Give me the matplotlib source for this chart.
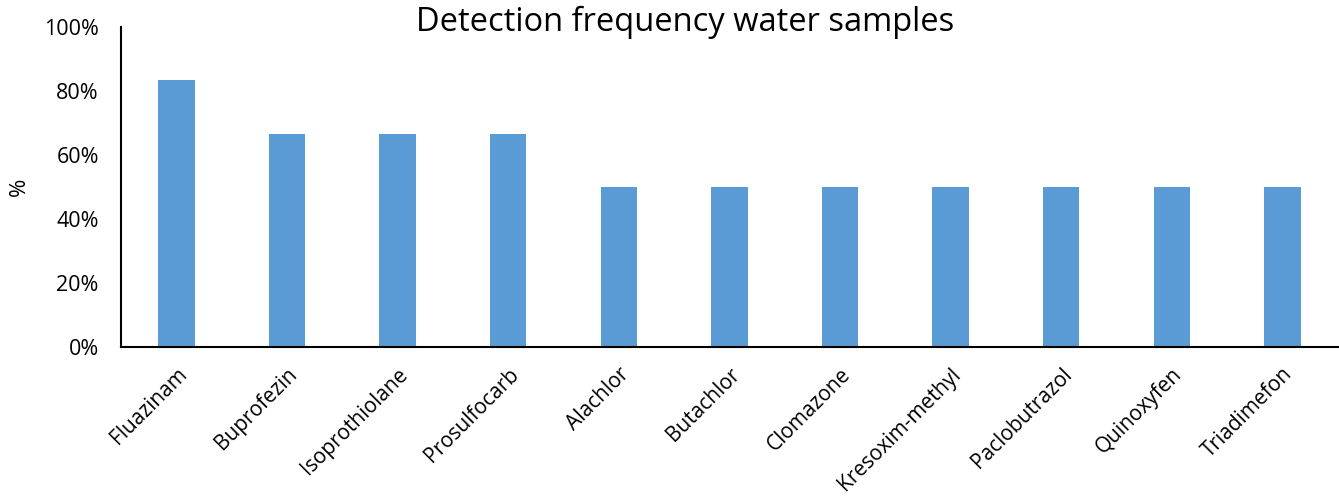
import matplotlib
matplotlib.use('agg')
import matplotlib.pyplot as plt
from matplotlib.ticker import PercentFormatter

# detection frequency per compound (%)
compounds = ['Fluazinam', 'Buprofezin', 'Isoprothiolane', 'Prosulfocarb', 'Alachlor',
             'Butachlor', 'Clomazone', 'Kresoxim-methyl', 'Paclobutrazol', 'Quinoxyfen',
             'Triadimefon']
freq = [83.3, 66.7, 66.7, 66.7, 50, 50, 50, 50, 50, 50, 50]
yticks = [0, 20, 40, 60, 80, 100]

plt.rcParams['font.family'] = ['Open Sans', 'DejaVu Sans']

fig = plt.figure(figsize=(13.39, 4.99), dpi=100)
ax = fig.add_axes([0.0904, 0.3046, 0.9086, 0.6413])

x = range(len(compounds))
ax.bar(x, freq, width=0.33, color='#5B9BD5')
ax.set_xlim(-0.5, len(compounds) - 0.5)
ax.set_ylim(0, 100)
ax.set_yticks(yticks)
ax.yaxis.set_major_formatter(PercentFormatter(decimals=0))
ax.set_xticks(list(x))
ax.set_xticklabels(compounds, rotation=45, ha='right', rotation_mode='anchor')
ax.tick_params(axis='y', length=0, labelsize=15.5, pad=16)
ax.tick_params(axis='x', length=0, labelsize=15, pad=12)
for s in ['top', 'right']:
    ax.spines[s].set_visible(False)
ax.spines['left'].set_linewidth(1.5)
ax.spines['bottom'].set_linewidth(1.5)
ax.set_ylabel('%', fontsize=16)
ax.yaxis.set_label_coords(-0.075, 0.5)

fig.text(0.5116, 0.956, 'Detection frequency water samples', fontsize=23.5,
         ha='center', va='center')

fig.savefig('out.png', dpi=100)
